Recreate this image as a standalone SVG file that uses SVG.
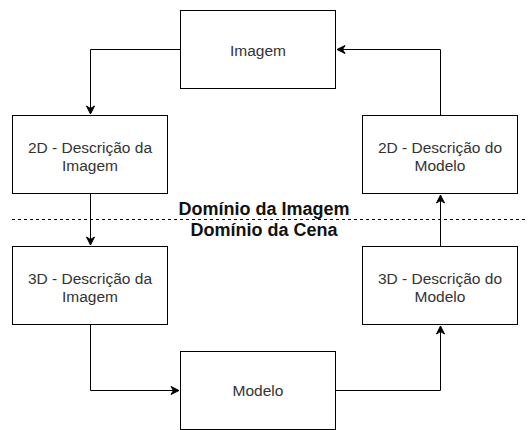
<svg xmlns="http://www.w3.org/2000/svg" width="528" height="430" viewBox="0 0 528 430">
<defs>
<marker id="arr" markerWidth="12" markerHeight="12" refX="9" refY="6" orient="auto" markerUnits="userSpaceOnUse">
<path d="M1,2 L9,6 L1,10 L3.5,6 Z" fill="#000" stroke="#000" stroke-width="1"/>
</marker>
<style>
.box{fill:#fff;stroke:#000;stroke-width:1}
.lbl{font-family:"Liberation Sans",Arial,sans-serif;font-size:15.5px;fill:#333;text-anchor:middle}
.dom{font-family:"Liberation Sans",Arial,sans-serif;font-size:18px;font-weight:bold;fill:#111;text-anchor:middle}
.edge{fill:none;stroke:#000;stroke-width:1}
</style>
</defs>
<rect width="528" height="430" fill="#fff"/>
<g id="connectors">
<path class="edge" d="M180.5,49.5 H90.5 V114" marker-end="url(#arr)"/>
<path class="edge" d="M90.5,193.5 V245" marker-end="url(#arr)"/>
<path class="edge" d="M90.5,324.5 V390.5 H179" marker-end="url(#arr)"/>
<path class="edge" d="M335.5,390.5 H440.5 V326" marker-end="url(#arr)"/>
<path class="edge" d="M440.5,246.5 V195" marker-end="url(#arr)"/>
<path class="edge" d="M440.5,115.5 V49.5 H337" marker-end="url(#arr)"/>
</g>
<g id="divider">
<line x1="12" y1="219.5" x2="528" y2="219.5" stroke="#000" stroke-width="1" stroke-dasharray="3,3"/>
<text class="dom" x="264" y="215">Domínio da Imagem</text>
<text class="dom" x="264" y="236">Domínio da Cena</text>
</g>
<g id="imagem">
<rect class="box" x="180.5" y="10.5" width="155" height="78"/>
<text class="lbl" x="258" y="55.5">Imagem</text>
</g>
<g id="desc2d-imagem">
<rect class="box" x="12.5" y="115.5" width="155" height="78"/>
<text class="lbl" x="90" y="152.5">2D - Descrição da</text>
<text class="lbl" x="90" y="171">Imagem</text>
</g>
<g id="desc2d-modelo">
<rect class="box" x="362.5" y="115.5" width="155" height="78"/>
<text class="lbl" x="440" y="152.5">2D - Descrição do</text>
<text class="lbl" x="440" y="171">Modelo</text>
</g>
<g id="desc3d-imagem">
<rect class="box" x="12.5" y="246.5" width="155" height="78"/>
<text class="lbl" x="90" y="283.5">3D - Descrição da</text>
<text class="lbl" x="90" y="302">Imagem</text>
</g>
<g id="desc3d-modelo">
<rect class="box" x="362.5" y="246.5" width="155" height="78"/>
<text class="lbl" x="440" y="283.5">3D - Descrição do</text>
<text class="lbl" x="440" y="302">Modelo</text>
</g>
<g id="modelo">
<rect class="box" x="180.5" y="351.5" width="155" height="78"/>
<text class="lbl" x="258" y="396">Modelo</text>
</g>
</svg>
